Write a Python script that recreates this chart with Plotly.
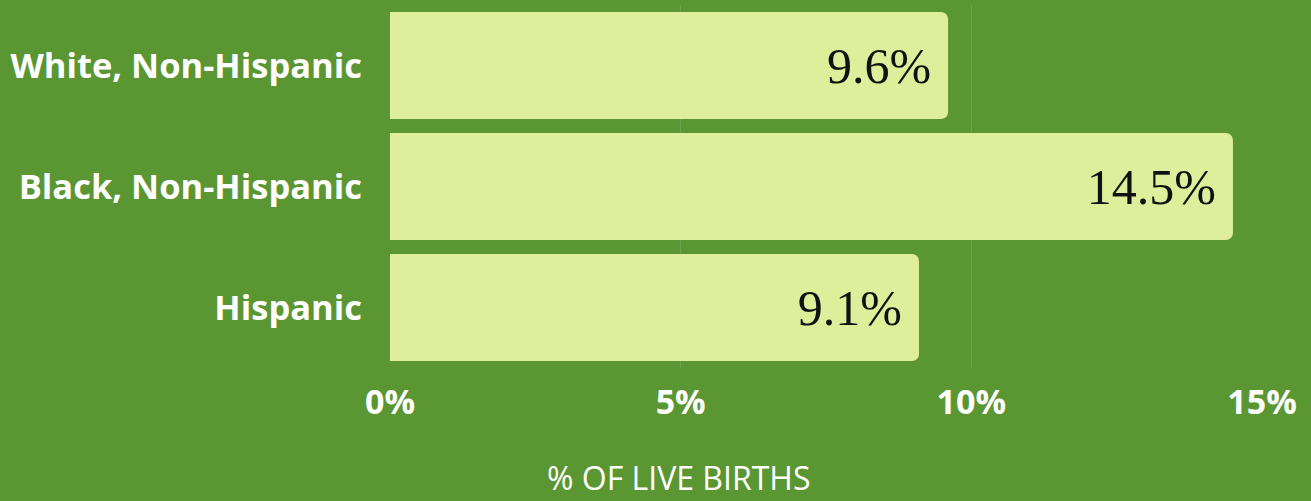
import plotly.graph_objects as go

groups = ["White, Non-Hispanic", "Black, Non-Hispanic", "Hispanic"]
rates = [9.6, 14.5, 9.1]
labels = ["9.6%", "14.5%", "9.1%"]
tick_vals = [0, 5, 10, 15]
tick_text = ["0%", "5%", "10%", "15%"]

bg = "#5a9632"
bar_color = "#deee9a"

fig = go.Figure()
fig.add_trace(go.Bar(
    x=rates,
    y=groups,
    orientation="h",
    marker=dict(color=bar_color, cornerradius=7, line=dict(width=0)),
    text=labels,
    texttemplate="%{text}\u2009",
    textposition="inside",
    insidetextanchor="end",
    textfont=dict(family="Liberation Serif, DejaVu Serif, serif", size=50, color="#111111"),
    hoverinfo="skip",
))

fig.update_layout(
    width=1311,
    height=501,
    paper_bgcolor=bg,
    plot_bgcolor=bg,
    margin=dict(l=390, r=49, t=5, b=133),
    bargap=0.116,
    showlegend=False,
    font=dict(family="Open Sans", color="white"),
)

fig.update_xaxes(
    range=[0, 15],
    tickvals=tick_vals,
    ticktext=tick_text,
    tickfont=dict(family="Open Sans", size=34, color="white", weight="bold"),
    showgrid=True,
    gridcolor="rgba(255,255,255,0.12)",
    gridwidth=1,
    zeroline=False,
    showline=False,
    ticks="",
    ticklabelstandoff=11,
    automargin=False,
)

fig.update_yaxes(
    categoryorder="array",
    categoryarray=groups,
    autorange="reversed",
    tickfont=dict(family="Open Sans", size=34.5, color="white", weight="bold"),
    showgrid=False,
    zeroline=False,
    showline=False,
    ticks="",
    ticklabelstandoff=27,
    automargin=False,
)

# axis title sits left of the plot centre in the original
fig.add_annotation(
    text="% OF LIVE BIRTHS",
    xref="paper", yref="paper",
    x=0.331, y=-0.303,
    xanchor="center", yanchor="middle",
    showarrow=False,
    font=dict(family="Open Sans", size=32, color="white"),
)

fig.write_html(
    "out.html",
    config={"displayModeBar": False},
    post_script="document.body.style.margin='0';document.body.style.background='#5a9632';",
)
